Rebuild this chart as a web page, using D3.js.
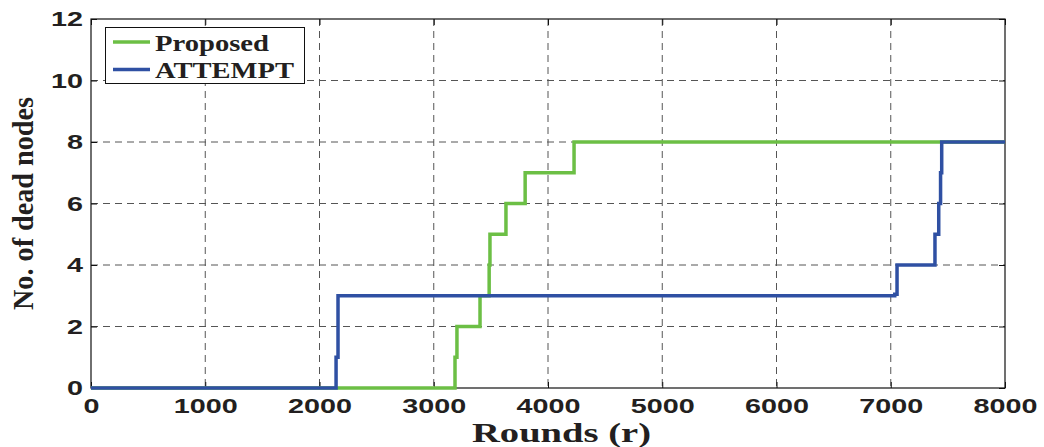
<!DOCTYPE html>
<html><head><meta charset="utf-8">
<script src="https://cdn.jsdelivr.net/npm/d3@7"></script>
<style>body{margin:0;background:#fff}</style>
</head><body>
<svg id="c" width="1044" height="447"></svg>
<script>
const xTicks = [0,1000,2000,3000,4000,5000,6000,7000,8000];
const yTicks = [0,2,4,6,8,10,12];
const proposedX = [0, 3186, 3203, 3405, 3485, 3492, 3632, 3800, 4228, 8000];
const proposedY = [0, 1, 2, 3, 4, 5, 6, 7, 8, 8];
const attemptX = [0, 2145, 2162, 7035, 7055, 7387, 7420, 7436, 7446, 8000];
const attemptY = [0, 1, 3, 3.05, 4, 5, 6, 7, 8, 8];
const seriesNames = ["Proposed", "ATTEMPT"];
const colors = ["#6cbf45", "#2f50a3"];

const svg = d3.select("#c");
const L = 91, R = 1005, T = 19, B = 388;
const x = d3.scaleLinear().domain([0, 8000]).range([L, R]);
const y = d3.scaleLinear().domain([0, 12]).range([B, T]);
const SX = 1.37;

// grid
const g = svg.append("g");
g.selectAll(".gx").data(xTicks.slice(1, -1)).enter().append("line")
  .attr("x1", d => x(d)).attr("x2", d => x(d)).attr("y1", T).attr("y2", B)
  .attr("stroke", "#555").attr("stroke-width", 1).attr("stroke-dasharray", "7,5");
g.selectAll(".gy").data(yTicks.slice(1, -1)).enter().append("line")
  .attr("y1", d => y(d)).attr("y2", d => y(d)).attr("x1", L).attr("x2", R)
  .attr("stroke", "#555").attr("stroke-width", 1).attr("stroke-dasharray", "7,5");

// axes
const ax = svg.append("g").attr("transform", `translate(0,${B})`)
  .call(d3.axisBottom(x).tickValues(xTicks).tickSize(-6).tickPadding(9).tickFormat(d3.format("d")));
const ay = svg.append("g").attr("transform", `translate(${L},0)`)
  .call(d3.axisLeft(y).tickValues(yTicks).tickSize(-6).tickFormat(d3.format("d")));
const axT = svg.append("g").attr("transform", `translate(0,${T})`)
  .call(d3.axisTop(x).tickValues(xTicks).tickSize(-6).tickFormat(""));
const ayR = svg.append("g").attr("transform", `translate(${R},0)`)
  .call(d3.axisRight(y).tickValues(yTicks).tickSize(-6).tickFormat(""));
[ax, ay, axT, ayR].forEach(a => {
  a.select(".domain").remove();
  a.selectAll("line").attr("stroke", "#111");
  a.selectAll("text").attr("font-family", "Liberation Sans, Arial, sans-serif")
    .attr("font-weight", "bold").attr("font-size", "21px").attr("fill", "#231f20");
});
ax.selectAll("text").attr("dy", "0.75em").attr("transform", `scale(${SX},1)`);
ay.selectAll("text").attr("x", -8 / SX).attr("transform", `scale(${SX},1)`);
svg.append("rect").attr("x", L).attr("y", T).attr("width", R - L).attr("height", B - T)
  .attr("fill", "none").attr("stroke", "#111").attr("stroke-width", 1.2);

// lines
const line = d3.line().x(d => x(d[0])).y(d => y(d[1])).curve(d3.curveStepAfter);
const seriesData = [d3.zip(proposedX, proposedY), d3.zip(attemptX, attemptY)];
seriesData.forEach((s, i) => {
  svg.append("path").datum(s).attr("d", line).attr("fill", "none")
    .attr("stroke", colors[i]).attr("stroke-width", 3.5).attr("stroke-linejoin", "miter");
});

// legend
const lg = svg.append("g");
lg.append("rect").attr("x", 105.5).attr("y", 27.5).attr("width", 199).attr("height", 56)
  .attr("fill", "#fff").attr("stroke", "#111").attr("stroke-width", 1);
const legLens = [114, 139];
seriesNames.forEach((n, i) => {
  const yy = 42 + i * 27.5;
  lg.append("line").attr("x1", 113).attr("x2", 150).attr("y1", yy).attr("y2", yy)
    .attr("stroke", colors[i]).attr("stroke-width", 3.5);
  lg.append("text").attr("x", 155).attr("y", 51 + i * 27.3).text(n)
    .attr("font-family", "Liberation Serif, Times New Roman, serif").attr("font-weight", "bold")
    .attr("font-size", "23px").attr("fill", "#231f20")
    .attr("textLength", legLens[i]).attr("lengthAdjust", "spacingAndGlyphs");
});

// titles
svg.append("text").attr("x", 472).attr("y", 442)
  .text("Rounds (r)").attr("font-family", "Liberation Serif, Times New Roman, serif")
  .attr("font-weight", "bold").attr("font-size", "28px").attr("fill", "#231f20")
  .attr("textLength", 179).attr("lengthAdjust", "spacingAndGlyphs");
svg.append("text").attr("transform", `translate(33,203.5) rotate(-90)`)
  .attr("text-anchor", "middle").text("No. of dead nodes")
  .attr("font-family", "Liberation Serif, Times New Roman, serif")
  .attr("font-weight", "bold").attr("font-size", "29px").attr("fill", "#231f20")
  .attr("textLength", 213).attr("lengthAdjust", "spacingAndGlyphs");
</script>
</body></html>
